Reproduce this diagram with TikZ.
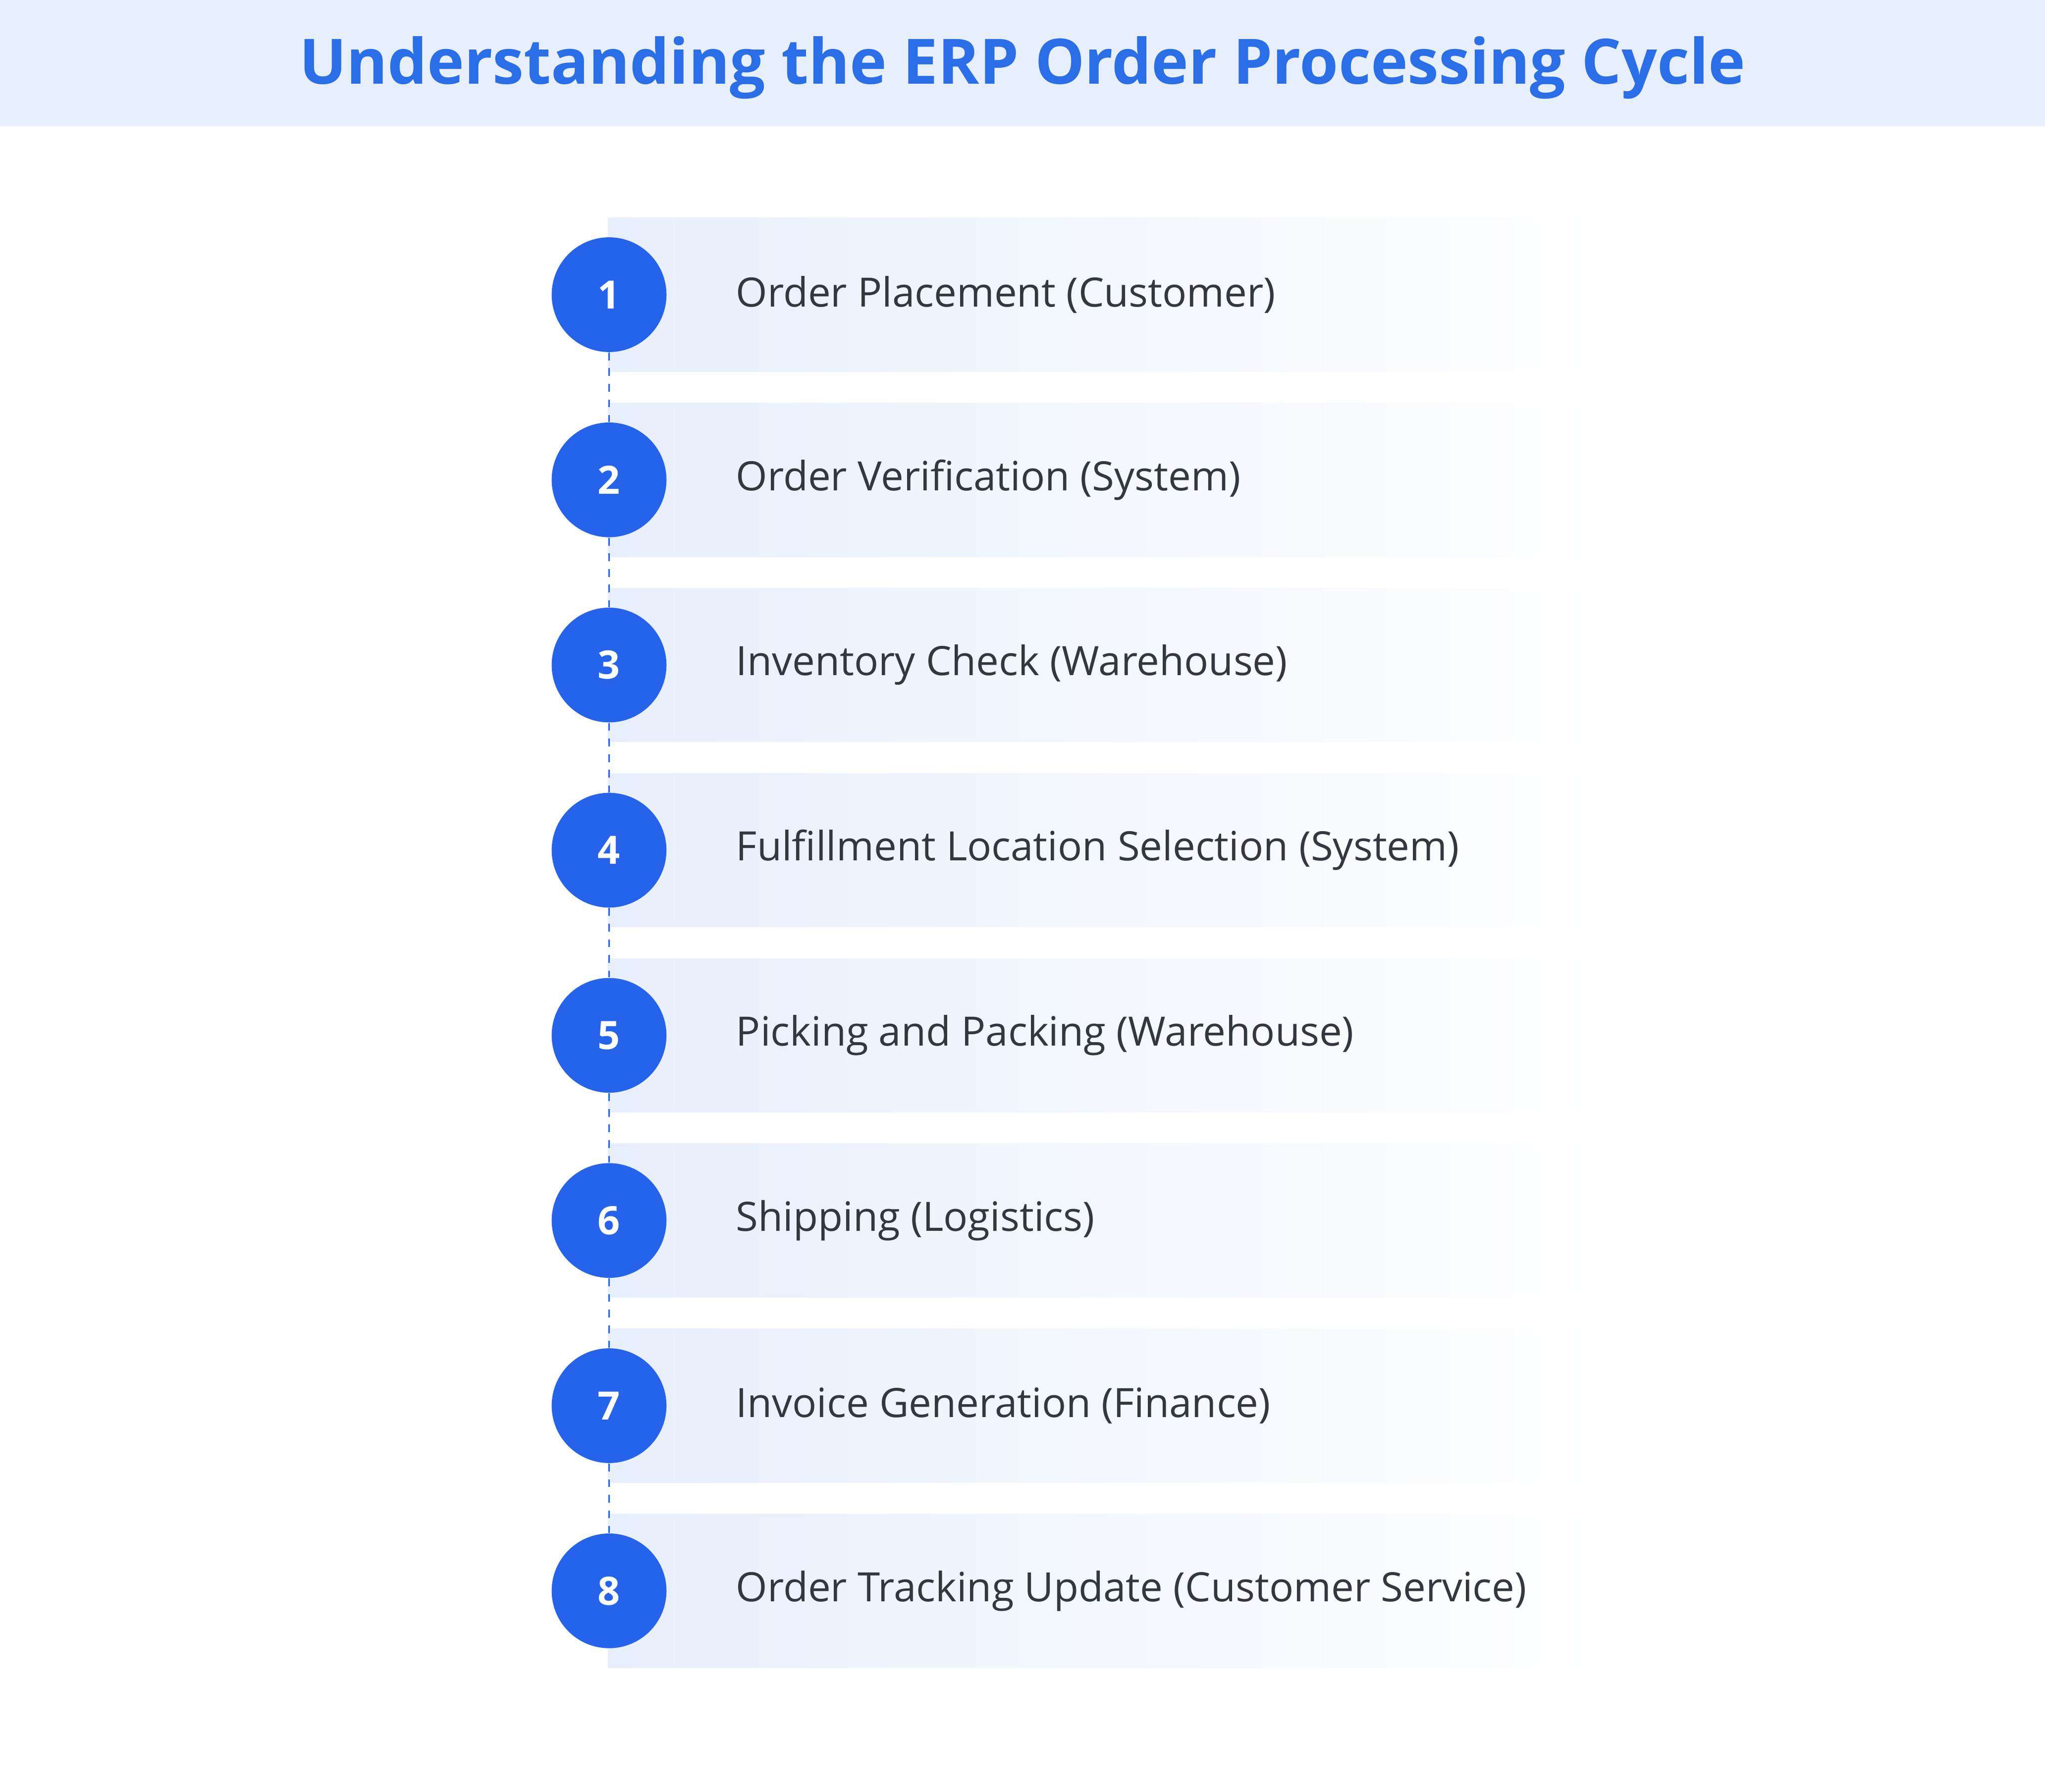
\documentclass[tikz,border=0pt]{standalone}
\usepackage{fontspec}
\setmainfont{Open Sans}
\usetikzlibrary{positioning}
\definecolor{bandblue}{HTML}{E8EFFC}
\definecolor{titleblue}{HTML}{2A6EE8}
\definecolor{stepblue}{HTML}{2563EB}
\definecolor{labelgray}{HTML}{333840}
\begin{document}
\begin{tikzpicture}[x=0.5pt,y=-0.5pt]

  \tikzstyle{num}=[circle,fill=stepblue,text=white,minimum size=44pt,inner sep=0pt,
    font=\fontsize{15}{18}\selectfont\bfseries]
  \tikzstyle{label}=[anchor=west,text=labelgray,inner sep=0pt,
    font=\fontsize{15.5}{18}\selectfont]
  \tikzstyle{link}=[stepblue,dashed,line width=0.6pt]

  \useasboundingbox (0,0) rectangle (1568,1374);
  \fill[bandblue] (0,0) rectangle (1568,97);
  \node (title) at (784,52) [text=titleblue,font=\fontsize{24}{28}\selectfont\bfseries]
    {Understanding the ERP Order Processing Cycle};

  \foreach \i/\txt in {1/Order Placement (Customer),
                       2/Order Verification (System),
                       3/Inventory Check (Warehouse),
                       4/Fulfillment Location Selection (System),
                       5/Picking and Packing (Warehouse),
                       6/Shipping (Logistics),
                       7/Invoice Generation (Finance),
                       8/Order Tracking Update (Customer Service)} {
    \pgfmathsetmacro{\yc}{226+142*(\i-1)}
    \shade[left color=bandblue,right color=white] (466,\yc-59) rectangle (1230,\yc+59);
    \node (n\i) at (467,\yc) [num] {\i};
    \node (t\i) at (564,\yc) [label] {\txt};
  }

  \foreach \i [evaluate=\i as \j using int(\i+1)] in {1,...,7}
    \draw[link] (n\i) -- (n\j);

\end{tikzpicture}
\end{document}
